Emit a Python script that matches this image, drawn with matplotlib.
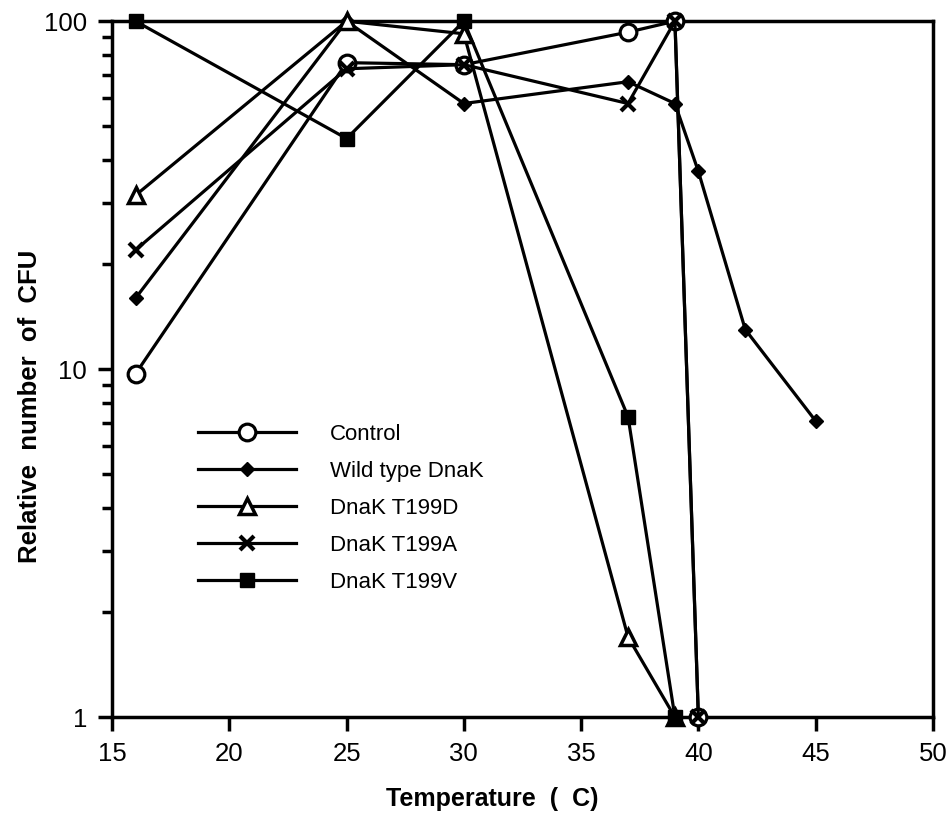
import matplotlib
matplotlib.use("Agg")
import matplotlib.pyplot as plt
from matplotlib.ticker import FixedLocator, FixedFormatter, LogLocator, NullFormatter

plt.rcParams["font.family"] = ["Liberation Sans", "DejaVu Sans"]

# data (temperature in C, relative CFU)
control_t = [16, 25, 30, 37, 39, 40]
control_v = [9.7, 76, 75, 93, 100, 1]

wild_t = [16, 25, 30, 37, 39, 40, 42, 45]
wild_v = [16, 100, 58, 67, 58, 37, 13, 7.1]

t199d_t = [16, 25, 30, 37, 39]
t199d_v = [31.6, 100, 92, 1.7, 1]

t199a_t = [16, 25, 30, 37, 39, 40]
t199a_v = [22, 73, 75, 58, 100, 1]

t199v_t = [16, 25, 30, 37, 39]
t199v_v = [100, 46, 100, 7.3, 1]

labels = ["Control", "Wild type DnaK", "DnaK T199D", "DnaK T199A", "DnaK T199V"]
x_ticks = [15, 20, 25, 30, 35, 40, 45, 50]
y_ticks = [1, 10, 100]

LW = 2.3

fig = plt.figure(figsize=(9.5, 8.15), dpi=100)
ax = fig.add_axes([0.118, 0.12, 0.864, 0.854])

series = [
    (control_t, control_v, dict(marker="o", ms=12, mfc="white", mec="black", mew=2.3)),
    (wild_t, wild_v, dict(marker="D", ms=7, mfc="black", mec="black", mew=1)),
    (t199d_t, t199d_v, dict(marker="^", ms=12, mfc="white", mec="black", mew=2.5)),
    (t199a_t, t199a_v, dict(marker="x", ms=10, mec="black", mew=3)),
    (t199v_t, t199v_v, dict(marker="s", ms=10, mfc="black", mec="black", mew=1)),
]

for (t, v, style), label in zip(series, labels):
    ax.plot(t, v, color="black", lw=LW, label=label, clip_on=False, zorder=3, **style)

ax.set_yscale("log")
ax.set_xlim(15, 50)
ax.set_ylim(1, 100)

ax.xaxis.set_major_locator(FixedLocator(x_ticks))
ax.yaxis.set_major_locator(FixedLocator(y_ticks))
ax.yaxis.set_major_formatter(FixedFormatter([str(y) for y in y_ticks]))
ax.yaxis.set_minor_locator(LogLocator(base=10, subs=range(2, 10)))
ax.yaxis.set_minor_formatter(NullFormatter())

ax.tick_params(axis="both", which="major", direction="out", length=10, width=2.5,
               labelsize=18.5, pad=8)
ax.tick_params(axis="y", which="minor", direction="out", length=7, width=2.5)
for side in ["left", "bottom", "right", "top"]:
    ax.spines[side].set_linewidth(2.5)

ax.set_xlabel("Temperature  (  C)", fontsize=18, fontweight="bold", labelpad=15)
ax.xaxis.set_label_coords(0.463, -0.1)
ax.set_ylabel("Relative  number  of  CFU", fontsize=18.5, fontweight="bold")
ax.yaxis.set_label_coords(-0.085, 0.447)

ax.legend(loc="upper left", bbox_to_anchor=(0.08, 0.45), frameon=False, fontsize=16,
          numpoints=1, handlelength=4.4, handletextpad=1.55, labelspacing=0.72)

fig.savefig("out.png", dpi=100)
